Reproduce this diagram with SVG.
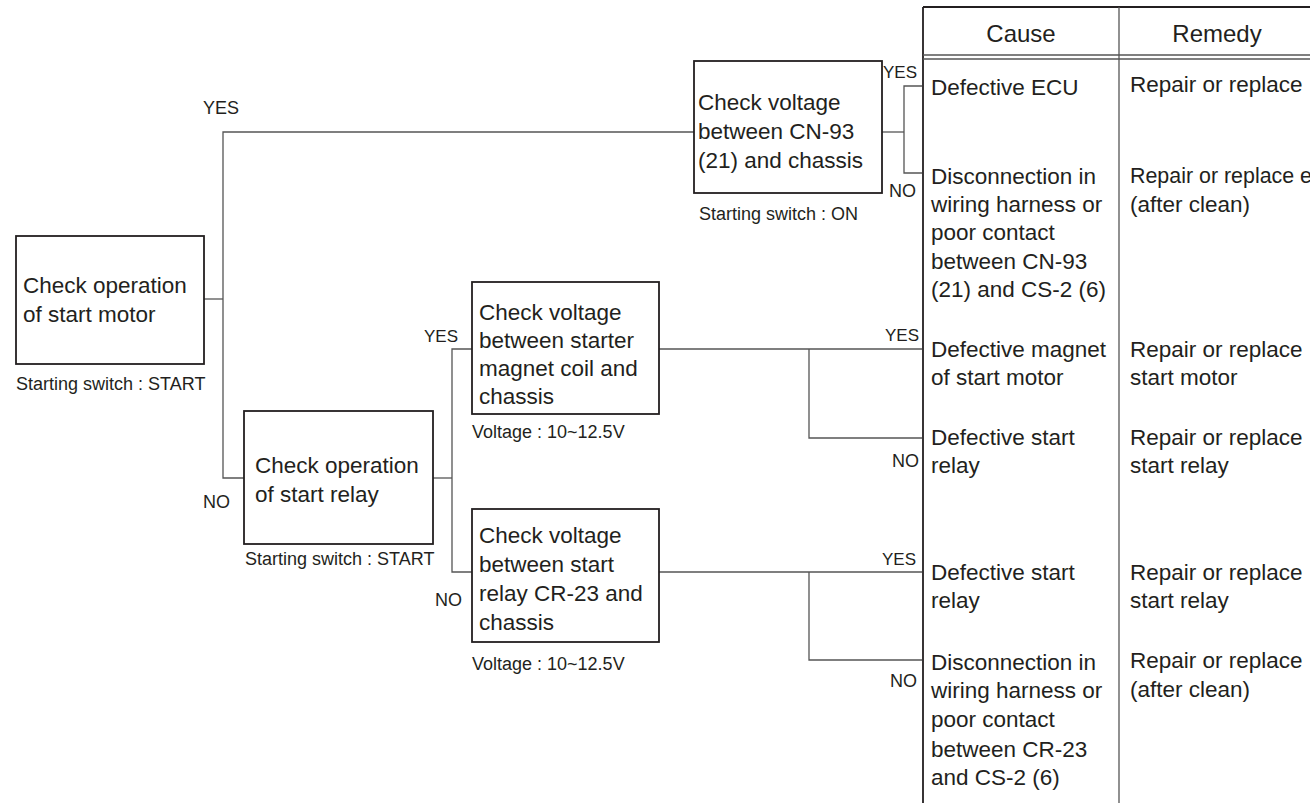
<svg xmlns="http://www.w3.org/2000/svg" width="1310" height="803" viewBox="0 0 1310 803">
<style>
text{font-family:"Liberation Sans",Arial,sans-serif;fill:#231f20}
.b{font-size:22.5px}
.h{font-size:24px;text-anchor:middle}
.c{font-size:18px}
.l{font-size:18px}
.le{font-size:17px;text-anchor:end}
.box{fill:#fff;stroke:#231f20;stroke-width:1.8}
.con{fill:none;stroke:#555;stroke-width:1.3}
.tb{fill:none;stroke:#231f20;stroke-width:1.8}
.tg{fill:none;stroke:#555;stroke-width:1.3}
</style>
<rect width="1310" height="803" fill="#fff"/>
<g id="connectors">
<polyline class="con" points="204,299 223,299"/>
<polyline class="con" points="694,132 223,132 223,478 244,478"/>
<polyline class="con" points="882,132 904,132"/>
<polyline class="con" points="922,86 904,86 904,173 922,173"/>
<polyline class="con" points="433,478 452,478"/>
<polyline class="con" points="472,349 452,349 452,572 472,572"/>
<polyline class="con" points="659,349 922,349"/>
<polyline class="con" points="809,349 809,438 922,438"/>
<polyline class="con" points="659,572 922,572"/>
<polyline class="con" points="809,572 809,660 922,660"/>
<text class="l" x="203" y="114">YES</text>
<text class="l" x="203" y="508">NO</text>
<text class="le" x="458" y="342">YES</text>
<text class="le" x="462" y="606" style="font-size:18px">NO</text>
<text class="le" x="917" y="78">YES</text>
<text class="le" x="916" y="197" style="font-size:18px">NO</text>
<text class="le" x="919" y="341">YES</text>
<text class="le" x="919" y="467" style="font-size:18px">NO</text>
<text class="le" x="916" y="565">YES</text>
<text class="le" x="917" y="687" style="font-size:18px">NO</text>
</g>
<g id="node-start-motor">
<rect class="box" x="16" y="236" width="188" height="128"/>
<text class="b" x="23" y="293">Check operation</text>
<text class="b" x="23" y="322">of start motor</text>
<text class="c" x="16" y="390">Starting switch : START</text>
</g>
<g id="node-cn93">
<rect class="box" x="694" y="61" width="188" height="132"/>
<text class="b" x="698" y="110">Check voltage</text>
<text class="b" x="698" y="139">between CN-93</text>
<text class="b" x="698" y="168">(21) and chassis</text>
<text class="c" x="699" y="220">Starting switch : ON</text>
</g>
<g id="node-start-relay">
<rect class="box" x="244" y="411" width="189" height="133"/>
<text class="b" x="255" y="473">Check operation</text>
<text class="b" x="255" y="502">of start relay</text>
<text class="c" x="245" y="565">Starting switch : START</text>
</g>
<g id="node-magnet">
<rect class="box" x="472" y="282" width="187" height="132"/>
<text class="b" x="479" y="320">Check voltage</text>
<text class="b" x="479" y="348">between starter</text>
<text class="b" x="479" y="376">magnet coil and</text>
<text class="b" x="479" y="404">chassis</text>
<text class="c" x="472" y="438">Voltage : 10~12.5V</text>
</g>
<g id="node-cr23">
<rect class="box" x="472" y="509" width="187" height="133"/>
<text class="b" x="479" y="543">Check voltage</text>
<text class="b" x="479" y="572">between start</text>
<text class="b" x="479" y="601">relay CR-23 and</text>
<text class="b" x="479" y="630">chassis</text>
<text class="c" x="472" y="670">Voltage : 10~12.5V</text>
</g>
<g id="table">
<line class="tb" x1="923" y1="7" x2="1310" y2="7"/>
<line class="tb" x1="923" y1="7" x2="923" y2="803"/>
<line class="tg" x1="1119" y1="7" x2="1119" y2="803"/>
<line class="tg" x1="923" y1="55" x2="1310" y2="55"/>
<line class="tg" x1="923" y1="59" x2="1310" y2="59"/>
<text class="h" x="1021" y="42">Cause</text>
<text class="h" x="1217" y="42">Remedy</text>
<text class="b" x="931" y="95">Defective ECU</text>
<text class="b" x="1130" y="92">Repair or replace</text>
<text class="b" x="931" y="184">Disconnection in</text>
<text class="b" x="931" y="212">wiring harness or</text>
<text class="b" x="931" y="240">poor contact</text>
<text class="b" x="931" y="269">between CN-93</text>
<text class="b" x="931" y="297">(21) and CS-2 (6)</text>
<text class="b" x="1130" y="183" textLength="182" lengthAdjust="spacingAndGlyphs">Repair or replace e</text>
<text class="b" x="1130" y="212">(after clean)</text>
<text class="b" x="931" y="357">Defective magnet</text>
<text class="b" x="931" y="385">of start motor</text>
<text class="b" x="1130" y="357">Repair or replace</text>
<text class="b" x="1130" y="385">start motor</text>
<text class="b" x="931" y="445">Defective start</text>
<text class="b" x="931" y="473">relay</text>
<text class="b" x="1130" y="445">Repair or replace</text>
<text class="b" x="1130" y="473">start relay</text>
<text class="b" x="931" y="580">Defective start</text>
<text class="b" x="931" y="608">relay</text>
<text class="b" x="1130" y="580">Repair or replace</text>
<text class="b" x="1130" y="608">start relay</text>
<text class="b" x="931" y="670">Disconnection in</text>
<text class="b" x="931" y="698">wiring harness or</text>
<text class="b" x="931" y="727">poor contact</text>
<text class="b" x="931" y="757">between CR-23</text>
<text class="b" x="931" y="785">and CS-2 (6)</text>
<text class="b" x="1130" y="668">Repair or replace</text>
<text class="b" x="1130" y="697">(after clean)</text>
</g>
</svg>
